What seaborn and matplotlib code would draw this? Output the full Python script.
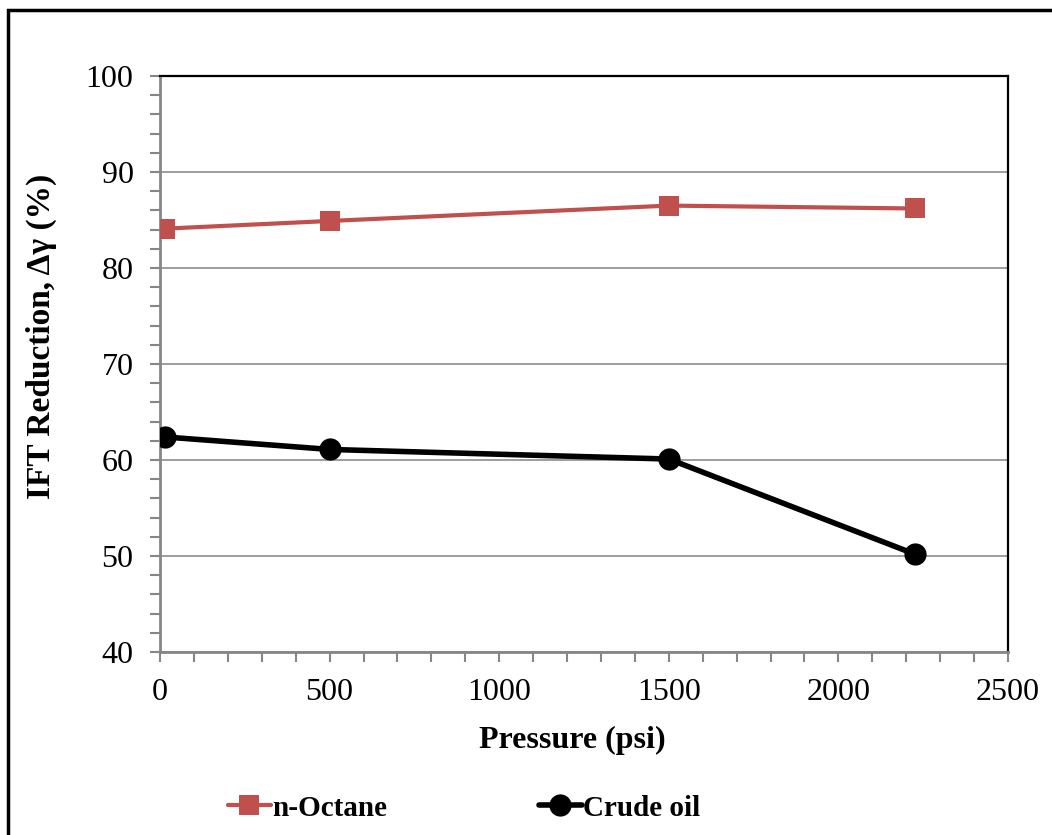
import pandas as pd
import numpy as np
import matplotlib
matplotlib.use("Agg")
import matplotlib.pyplot as plt
from matplotlib.patches import Rectangle
from matplotlib.ticker import MultipleLocator
import seaborn as sns

pressure = [14.7, 500, 1500, 2225]
octane = [84.1, 84.9, 86.5, 86.2]
crude = [62.4, 61.1, 60.1, 50.2]

sns.set_style("white")
plt.rcParams["font.family"] = ["Liberation Serif", "DejaVu Serif"]
plt.rcParams["text.color"] = "black"
plt.rcParams["axes.labelcolor"] = "black"
plt.rcParams["xtick.labelcolor"] = "black"
plt.rcParams["ytick.labelcolor"] = "black"

fig = plt.figure(figsize=(10.52, 8.35), dpi=100)
ax = fig.add_axes([160/1052, 1-652/835, (1008-160)/1052, (652-76)/835])

df_oct = pd.DataFrame({"Pressure": pressure, "IFT": octane})
df_cru = pd.DataFrame({"Pressure": pressure, "IFT": crude})

sns.lineplot(data=df_oct, x="Pressure", y="IFT", ax=ax, color="#C0504D",
             linewidth=3.0, marker="s", markersize=15, markeredgewidth=0,
             label="n-Octane", zorder=3)
sns.lineplot(data=df_cru, x="Pressure", y="IFT", ax=ax, color="black",
             linewidth=4.0, marker="o", markersize=16, markeredgewidth=0,
             label="Crude oil", zorder=3)

ax.set_xlim(0, 2500)
ax.set_ylim(40, 100)
ax.xaxis.set_major_locator(MultipleLocator(500))
ax.xaxis.set_minor_locator(MultipleLocator(100))
ax.yaxis.set_major_locator(MultipleLocator(10))
ax.yaxis.set_minor_locator(MultipleLocator(2))
ax.grid(True, axis="y", which="major", color="#8c8c8c", linewidth=1.2)
ax.set_axisbelow(True)

for s in ["left", "bottom"]:
    ax.spines[s].set_color("#868686")
    ax.spines[s].set_linewidth(2)
for s in ["top", "right"]:
    ax.spines[s].set_color("black")
    ax.spines[s].set_linewidth(1.6)

ax.tick_params(axis="both", which="both", direction="out", color="#868686",
               width=1.5, length=7, labelsize=23)
ax.tick_params(axis="x", which="both", bottom=True, pad=12)
ax.tick_params(axis="y", which="both", left=True, pad=12)

ax.set_xlabel("Pressure (psi)", fontsize=23, fontweight="bold")
ax.xaxis.set_label_coords((572-160)/848, -(726-652)/576)
ax.set_ylabel("IFT Reduction, Δγ (%)", fontsize=24, fontweight="bold")
ax.yaxis.set_label_coords(-(160-57)/848, (652-336)/576)

ax.legend(loc="center left", bbox_to_anchor=(228/1052, 1-808/835),
          bbox_transform=fig.transFigure, ncol=2, frameon=False,
          prop={"size": 21, "weight": "bold"}, handlelength=1.47,
          handletextpad=0.05, columnspacing=5.2, borderpad=0, borderaxespad=0)

fig.patches.append(Rectangle((8/1052, -0.1), 1.2, 1.1 - 10/835, transform=fig.transFigure,
                             fill=False, edgecolor="black", linewidth=2.5))

fig.savefig("out.png", dpi=100)
